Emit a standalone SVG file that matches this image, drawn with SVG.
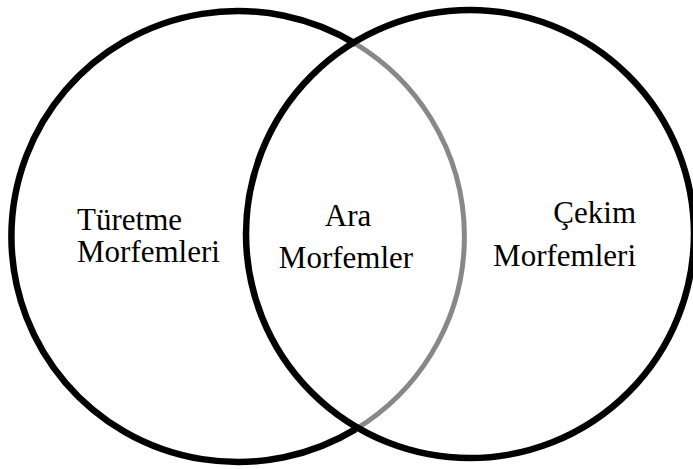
<svg xmlns="http://www.w3.org/2000/svg" width="693" height="469" viewBox="0 0 693 469">
<style>
.ring{fill:none;stroke:#000;stroke-width:6.5}
.gray{fill:none;stroke:#888;stroke-width:5}
text{font-family:"Liberation Serif","Times New Roman",serif;font-size:31px;fill:#000}
</style>
<rect width="693" height="469" fill="#fff"/>
<g id="left-set">
<path class="ring" d="M355.7 43.9 A226.5 225.5 0 1 0 355.7 429.1"/>
<path class="gray" d="M355.7 43.9 A226.5 225.5 0 0 1 355.7 429.1"/>
</g>
<g id="right-set">
<circle class="ring" cx="470" cy="234" r="224"/>
</g>
<g id="label-left">
<text x="77" y="230">Türetme</text>
<text x="77" y="262">Morfemleri</text>
</g>
<g id="label-middle">
<text x="348" y="226" text-anchor="middle">Ara</text>
<text x="346" y="268" text-anchor="middle">Morfemler</text>
</g>
<g id="label-right">
<text x="636" y="223" text-anchor="end">Çekim</text>
<text x="636" y="266" text-anchor="end">Morfemleri</text>
</g>
</svg>
